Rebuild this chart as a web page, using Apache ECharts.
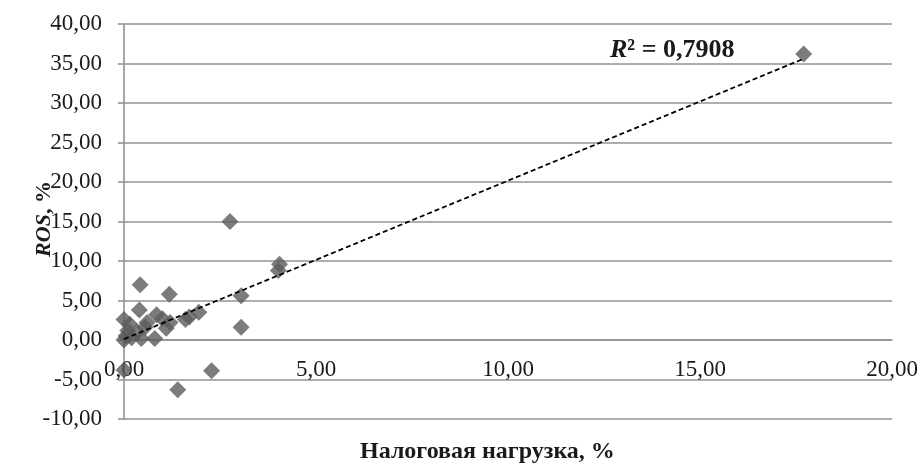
<!DOCTYPE html>
<html>
<head>
<meta charset="utf-8">
<script src="https://cdn.jsdelivr.net/npm/echarts@6/dist/echarts.min.js"></script>
<style>
  html, body { margin: 0; padding: 0; background: #fff; }
  #chart { width: 921px; height: 466px; }
</style>
</head>
<body>
<div id="chart"></div>
<script>
// Tax burden (%) vs return on sales (%) per company
const taxBurden = [0.00, 0.05, 0.10, 0.00, 0.15, 0.20, 0.35, 0.40, 0.42, 0.45,
                   0.55, 0.60, 0.85, 0.80, 1.00, 1.10, 1.20, 1.18, 1.60, 1.70,
                   1.95, 2.76, 3.05, 3.05, 4.05, 4.02, 2.28, 1.40, 0.00, 17.70];
const ros       = [0.00, 0.50, 1.20, 2.60, 2.00, 0.30, 1.00, 3.80, 7.00, 0.20,
                   1.60, 2.20, 3.20, 0.20, 2.70, 1.50, 2.20, 5.80, 2.60, 2.90,
                   3.50, 15.00, 5.60, 1.60, 9.60, 8.80, -3.90, -6.30, -3.80, 36.20];
const rSquaredText = '0,7908';
const xTitle = 'Налоговая нагрузка, %';

const xMin = 0, xMax = 20, xStep = 5;
const yMin = -10, yMax = 40, yStep = 5;

// least-squares linear trend
const n = taxBurden.length;
const mx = taxBurden.reduce((s, v) => s + v, 0) / n;
const my = ros.reduce((s, v) => s + v, 0) / n;
let sxy = 0, sxx = 0;
for (let i = 0; i < n; i++) {
  sxy += (taxBurden[i] - mx) * (ros[i] - my);
  sxx += (taxBurden[i] - mx) * (taxBurden[i] - mx);
}
const slope = sxy / sxx;
const intercept = my - slope * mx;
const tMin = Math.min(...taxBurden), tMax = Math.max(...taxBurden);
const trend = [[tMin, intercept + slope * tMin], [tMax, intercept + slope * tMax]];

const fmt = v => v.toFixed(2).replace('.', ',');
const grey = '#939393';
const ink = '#1a1a1a';
const serif = '"Liberation Serif", "Times New Roman", serif';

const gridTop = 24, gridBottom = 47, chartH = 466;
const plotH = chartH - gridTop - gridBottom;
// horizontal axis sits on the -5 line
const xAxisOffset = -plotH * (-5 - yMin) / (yMax - yMin);

const chart = echarts.init(document.getElementById('chart'));
chart.setOption({
  animation: false,
  backgroundColor: '#fff',
  grid: { left: 124, right: 29, top: gridTop, bottom: gridBottom, containLabel: false },
  xAxis: {
    type: 'value', min: xMin, max: xMax, interval: xStep,
    position: 'bottom', offset: xAxisOffset,
    axisLine: { show: true, lineStyle: { color: grey, width: 1.6 } },
    axisTick: { show: false },
    splitLine: { show: false },
    axisLabel: {
      inside: true, margin: -2, formatter: fmt,
      fontFamily: serif, fontSize: 23, color: ink
    }
  },
  yAxis: {
    type: 'value', min: yMin, max: yMax, interval: yStep,
    axisLine: { show: true, lineStyle: { color: grey, width: 1.6 } },
    axisTick: { show: true, length: 6, lineStyle: { color: grey, width: 1.6 } },
    splitLine: { show: true, lineStyle: { color: grey, width: 1.6 } },
    axisLabel: { margin: 22, formatter: fmt, fontFamily: serif, fontSize: 23, color: ink }
  },
  series: [
    {
      type: 'scatter',
      data: taxBurden.map((x, i) => [x, ros[i]]),
      symbol: 'diamond', symbolSize: 17,
      itemStyle: { color: '#5b5b5b' },
      clip: false, z: 3
    },
    {
      type: 'line',
      data: trend,
      showSymbol: false, symbol: 'none',
      lineStyle: { color: '#000', width: 1.8, type: [5, 3] },
      z: 4
    }
  ],
  graphic: [
    {
      type: 'text', left: 610, top: 37,
      style: {
        text: '{r|R}{n|² = ' + rSquaredText + '}',
        rich: {
          r: { fontFamily: serif, fontSize: 26, fontWeight: 'bold', fontStyle: 'italic', fill: ink },
          n: { fontFamily: serif, fontSize: 26, fontWeight: 'bold', fill: ink }
        }
      }
    },
    {
      type: 'text', left: 360, top: 440,
      style: { text: xTitle, fontFamily: serif, fontSize: 24, fontWeight: 'bold', fill: ink }
    },
    {
      type: 'text', x: 44, y: 219, rotation: Math.PI / 2,
      style: {
        text: '{i|ROS}{b|, %}',
        align: 'center', verticalAlign: 'middle',
        rich: {
          i: { fontFamily: serif, fontSize: 22, fontWeight: 'bold', fontStyle: 'italic', fill: ink },
          b: { fontFamily: serif, fontSize: 22, fontWeight: 'bold', fill: ink }
        }
      }
    }
  ]
});
</script>
</body>
</html>
